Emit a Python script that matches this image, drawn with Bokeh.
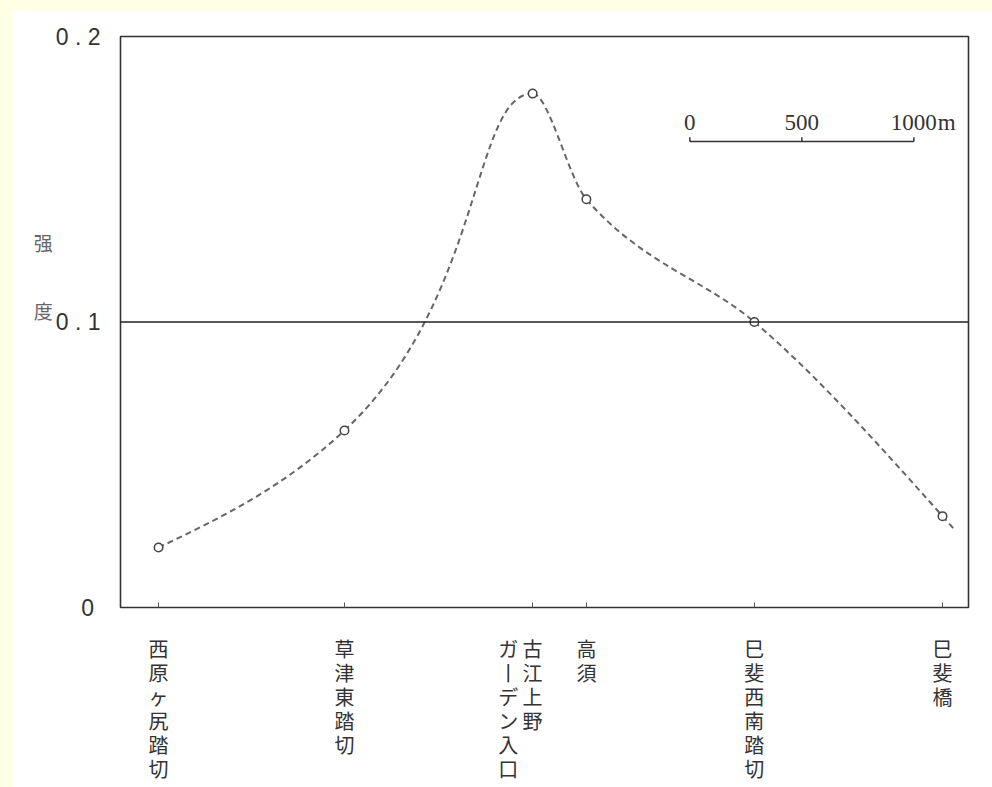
import numpy as np
from bokeh.plotting import figure
from bokeh.models import FixedTicker, Span, GlobalInlineStyleSheet, Range1d
from bokeh.embed import file_html
from bokeh.resources import INLINE
from bokeh.core.properties import value

# ---------------- data ----------------
stations = ["西原ヶ尻踏切", "草津東踏切", "古江上野", "高須", "巳斐西南踏切", "巳斐橋"]
station_second_col = ["", "", "ガ丨デン入口", "", "", ""]
dist_m = [0, 830, 1670, 1910, 2660, 3500]          # distance along route (m)
intensity = [0.021, 0.062, 0.180, 0.143, 0.100, 0.032]
y_ticks = [0, 0.1, 0.2]
y_tick_labels = ["0\u00a0", "0 . 1", "0 . 2"]
reference_level = 0.1
scale_ticks_m = [0, 500, 1000]
scale_tick_labels = ["0", "500", "1000"]
scale_unit = "m"
axis_title_chars = ["强", "度"]

# ---------------- styles / layout constants ----------------
JP = "Noto Sans CJK JP"
X_START, X_END = -170, 3616
SB_X, SB_Y, SB_TICK_H = 2372, 0.1632, 0.0015
TAIL_M = 55
handle_out = np.array([1/3, 0.74, 0.30, 1/3, 1/3])
handle_in = np.array([1/3, 0.32, 1/3, 0.30, 1/3])

p = figure(width=980, height=777, output_backend="svg", toolbar_location=None,
           x_range=Range1d(X_START, X_END), y_range=Range1d(0, 0.2),
           min_border_left=108, min_border_right=24, min_border_top=26, min_border_bottom=180,
           background_fill_color="white", border_fill_color="white")
p.stylesheets = [GlobalInlineStyleSheet(css=(
    "html, body { background-color: #FFFFE4 !important; margin: 0 !important; "
    "overflow: hidden !important; } "
    "body { padding: 10px 0 0 12px !important; box-sizing: border-box; }"))]

p.grid.visible = False
p.outline_line_color = "#333333"
p.outline_line_width = 1.6

# y axis
p.yaxis.ticker = FixedTicker(ticks=y_ticks)
p.yaxis.major_label_overrides = {t: l for t, l in zip(y_ticks, y_tick_labels)}
p.yaxis.axis_line_color = None
p.yaxis.major_tick_line_color = None
p.yaxis.minor_tick_line_color = None
p.yaxis.major_label_standoff = 14
p.yaxis.major_label_text_font = "Liberation Sans"
p.yaxis.major_label_text_font_size = "23px"
p.yaxis.major_label_text_color = "#333333"
# axis title: two characters stacked, placed above the middle of the axis
blank = "\u3000"
p.yaxis.axis_label = "\n".join([axis_title_chars[0], blank, blank, axis_title_chars[1],
                                blank, blank, blank, blank])
p.yaxis.axis_label_orientation = "horizontal"
p.yaxis.axis_label_text_font = "Noto Sans CJK SC"
p.yaxis.axis_label_text_font_size = "19px"
p.yaxis.axis_label_text_font_style = "normal"
p.yaxis.axis_label_text_color = "#666666"
p.yaxis.axis_label_text_line_height = 0.84
p.yaxis.axis_label_standoff = 0

# x axis with vertical (stacked) station names
def vertical(main, second):
    if not second:
        return "\n".join(main)
    n = max(len(main), len(second))
    lines = []
    for i in range(n):
        a = second[i] if i < len(second) else "\u3000"
        b = main[i] if i < len(main) else "\u3000"
        lines.append(a + " " + b + "\u3000 ")
    return "\n".join(lines)

p.xaxis.ticker = FixedTicker(ticks=dist_m)
p.xaxis.major_label_overrides = {d: vertical(s, s2) for d, s, s2 in zip(dist_m, stations, station_second_col)}
p.xaxis.axis_line_color = None
p.xaxis.major_tick_in = 5
p.xaxis.major_tick_out = 0
p.xaxis.major_tick_line_color = "#555555"
p.xaxis.minor_tick_line_color = None
p.xaxis.major_label_standoff = 26
p.xaxis.major_label_text_font = JP
p.xaxis.major_label_text_font_size = "20px"
p.xaxis.major_label_text_color = "#333333"
p.xaxis.major_label_text_line_height = 0.83

# reference line at 0.1
p.add_layout(Span(location=reference_level, dimension="width", line_color="#222222", line_width=1.5))

# smooth dashed curve (cubic Bezier segments, monotone-cubic tangents)
x = np.array(dist_m, float)
y = np.array(intensity, float)
h = np.diff(x)
d = np.diff(y) / h
m = np.zeros_like(y)
for k in range(1, len(x) - 1):
    if d[k - 1] * d[k] <= 0:
        m[k] = 0.0
    else:
        w1 = 2 * h[k] + h[k - 1]
        w2 = h[k] + 2 * h[k - 1]
        m[k] = (w1 + w2) / (w1 / d[k - 1] + w2 / d[k])
m[0] = (3 * d[0] - m[1]) / 2
m[-1] = (3 * d[-1] - m[-2]) / 2

dash = dict(line_color="#666666", line_width=2, line_dash="6 4")
p.bezier(x0=x[:-1], y0=y[:-1], x1=x[1:], y1=y[1:],
         cx0=x[:-1] + handle_out * h, cy0=y[:-1] + handle_out * h * m[:-1],
         cx1=x[1:] - handle_in * h, cy1=y[1:] - handle_in * h * m[1:], **dash)
p.segment(x0=[x[-1]], y0=[y[-1]], x1=[x[-1] + TAIL_M], y1=[y[-1] + TAIL_M * m[-1]], **dash)

p.scatter(dist_m, intensity, marker="circle", size=8.5, fill_color="white",
          line_color="#444444", line_width=1.5)

# scale bar
sx = [SB_X + t for t in scale_ticks_m]
p.segment(x0=[sx[0]], y0=[SB_Y], x1=[sx[-1]], y1=[SB_Y], line_color="#333333", line_width=1.5)
p.segment(x0=sx, y0=[SB_Y] * len(sx), x1=sx, y1=[SB_Y + SB_TICK_H] * len(sx),
          line_color="#333333", line_width=1.5)
p.text(x=sx, y=[SB_Y] * len(sx), text=scale_tick_labels, y_offset=-19,
       text_align="center", text_baseline="alphabetic", text_font=value("Liberation Serif"),
       text_font_size="23px", text_color="#333333")
p.text(x=[sx[-1]], y=[SB_Y], text=[scale_unit], x_offset=24, y_offset=-19,
       text_align="left", text_baseline="alphabetic", text_font=value("Liberation Serif"),
       text_font_size="23px", text_color="#333333")

open("out.html", "w").write(file_html(p, INLINE))
